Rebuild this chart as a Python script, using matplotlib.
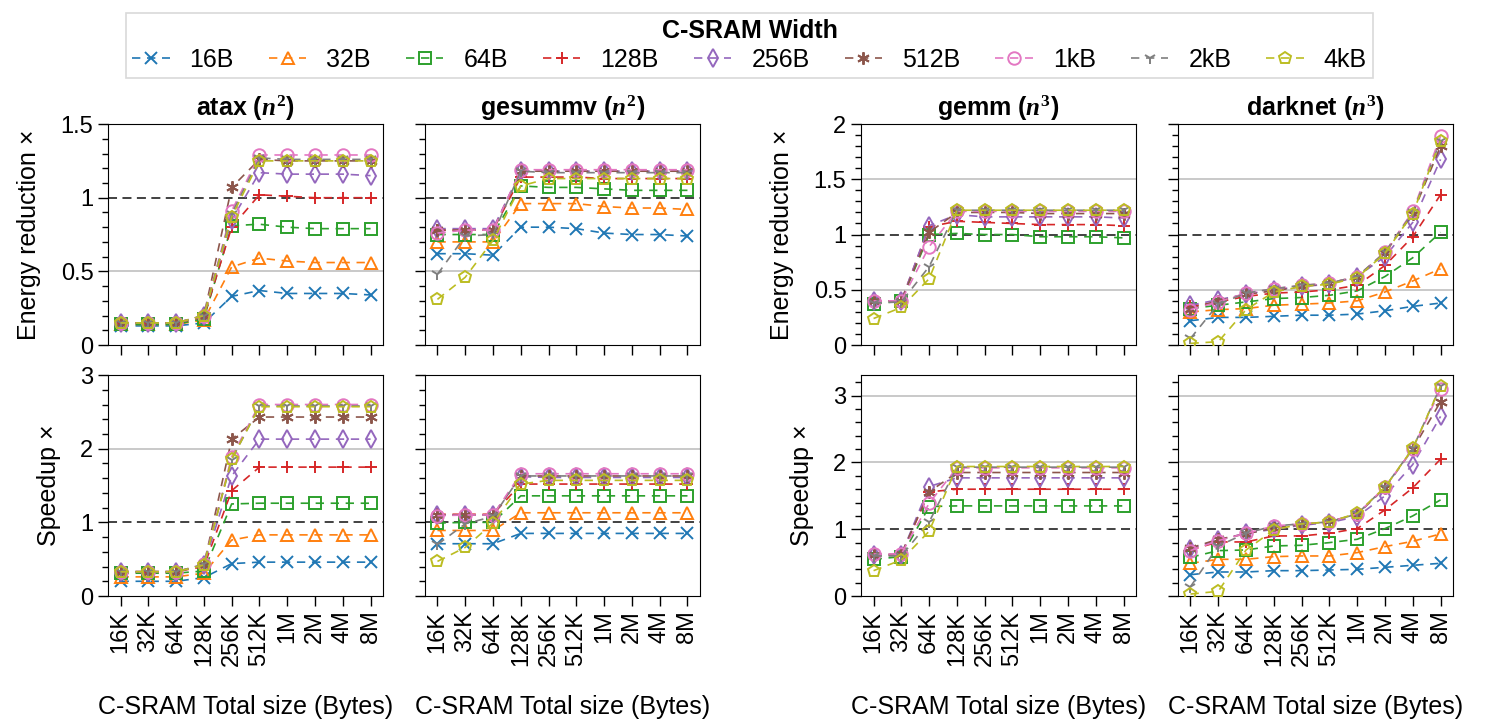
import numpy as np
import matplotlib
matplotlib.use("Agg")
import matplotlib.pyplot as plt
from matplotlib.ticker import MultipleLocator, FuncFormatter

plt.rcParams['font.family'] = ['Liberation Sans', 'DejaVu Sans']
plt.rcParams['mathtext.fontset'] = 'custom'
plt.rcParams['mathtext.it'] = 'Liberation Serif:italic:bold'
plt.rcParams['mathtext.rm'] = 'Liberation Serif:bold'

# -------------------------
# Datos
# -------------------------
tamanos = ["16K", "32K", "64K", "128K", "256K", "512K", "1M", "2M", "4M", "8M"]
anchos = ["16B", "32B", "64B", "128B", "256B", "512B", "1kB", "2kB", "4kB"]
marcadores = ["x", "^", "s", "+", "d", (6, 2, 0), "o", "1", "p"]
colores = ["#1f77b4", "#ff7f0e", "#2ca02c", "#d62728", "#9467bd",
           "#8c564b", "#e377c2", "#7f7f7f", "#bcbd22"]
na = [None] * 10

atax_energy = [
    [0.13, 0.13, 0.13, 0.15, 0.33, 0.37, 0.35, 0.35, 0.35, 0.34],
    [0.14, 0.14, 0.14, 0.17, 0.53, 0.59, 0.57, 0.56, 0.56, 0.56],
    [0.14, 0.14, 0.14, 0.18, 0.81, 0.82, 0.80, 0.79, 0.79, 0.79],
    [0.15, 0.15, 0.15, 0.19, 0.80, 1.02, 1.01, 1.00, 1.00, 1.00],
    [0.15, 0.15, 0.15, 0.20, 0.85, 1.17, 1.16, 1.16, 1.16, 1.15],
    [0.15, 0.15, 0.15, 0.20, 1.07, 1.26, 1.25, 1.25, 1.25, 1.25],
    [0.15, 0.15, 0.15, 0.20, 0.91, 1.29, 1.29, 1.29, 1.29, 1.29],
    [0.15, 0.15, 0.15, 0.20, 0.89, 1.27, 1.26, 1.26, 1.26, 1.26],
    [0.15, 0.15, 0.15, 0.20, 0.87, 1.25, 1.25, 1.25, 1.25, 1.25],
]
gesummv_energy = [
    [0.62, 0.62, 0.61, 0.80, 0.80, 0.79, 0.76, 0.75, 0.75, 0.74],
    [0.70, 0.70, 0.70, 0.96, 0.96, 0.96, 0.94, 0.93, 0.93, 0.92],
    [0.75, 0.75, 0.75, 1.08, 1.07, 1.07, 1.06, 1.05, 1.05, 1.05],
    [0.78, 0.78, 0.78, 1.14, 1.14, 1.14, 1.13, 1.13, 1.13, 1.13],
    [0.79, 0.79, 0.79, 1.18, 1.18, 1.18, 1.18, 1.18, 1.18, 1.18],
    [0.78, 0.78, 0.78, 1.18, 1.18, 1.18, 1.18, 1.18, 1.18, 1.18],
    [0.76, 0.78, 0.78, 1.19, 1.19, 1.19, 1.19, 1.19, 1.19, 1.19],
    [0.48, 0.74, 0.75, 1.18, 1.17, 1.17, 1.17, 1.17, 1.17, 1.17],
    [0.31, 0.46, 0.71, 1.08, 1.13, 1.13, 1.13, 1.13, 1.13, 1.13],
]
gemm_energy = [
    na,
    na,
    [0.37, 0.40, 1.00, 1.01, 1.00, 1.00, 0.98, 0.98, 0.98, 0.97],
    [0.40, 0.40, 1.07, 1.12, 1.11, 1.10, 1.09, 1.09, 1.09, 1.08],
    [0.40, 0.40, 1.08, 1.18, 1.16, 1.16, 1.16, 1.16, 1.16, 1.15],
    [0.40, 0.40, 1.02, 1.20, 1.20, 1.20, 1.19, 1.19, 1.19, 1.19],
    [0.40, 0.40, 0.89, 1.21, 1.21, 1.21, 1.21, 1.21, 1.21, 1.21],
    [0.38, 0.39, 0.71, 1.22, 1.22, 1.22, 1.22, 1.22, 1.22, 1.22],
    [0.24, 0.34, 0.60, 1.22, 1.22, 1.22, 1.22, 1.22, 1.22, 1.22],
]
darknet_energy = [
    [0.22, 0.25, 0.25, 0.26, 0.27, 0.27, 0.28, 0.31, 0.35, 0.38],
    [0.30, 0.32, 0.33, 0.36, 0.37, 0.38, 0.40, 0.48, 0.58, 0.69],
    [0.33, 0.36, 0.39, 0.42, 0.43, 0.45, 0.49, 0.62, 0.79, 1.02],
    [0.35, 0.39, 0.44, 0.47, 0.48, 0.50, 0.54, 0.72, 0.98, 1.36],
    [0.36, 0.41, 0.46, 0.50, 0.53, 0.55, 0.62, 0.80, 1.11, 1.68],
    [0.33, 0.40, 0.46, 0.49, 0.53, 0.56, 0.62, 0.83, 1.19, 1.80],
    [0.32, 0.39, 0.47, 0.51, 0.54, 0.56, 0.62, 0.84, 1.21, 1.89],
    [0.06, 0.37, 0.47, 0.51, 0.54, 0.56, 0.62, 0.84, 1.20, 1.85],
    [0.015, 0.03, 0.32, 0.48, 0.53, 0.55, 0.61, 0.83, 1.19, 1.85],
]
atax_speedup = [
    [0.20, 0.20, 0.20, 0.25, 0.44, 0.46, 0.46, 0.46, 0.46, 0.46],
    [0.26, 0.26, 0.26, 0.31, 0.76, 0.83, 0.83, 0.83, 0.83, 0.83],
    [0.31, 0.31, 0.31, 0.34, 1.25, 1.26, 1.26, 1.26, 1.26, 1.26],
    [0.33, 0.33, 0.33, 0.40, 1.43, 1.75, 1.75, 1.75, 1.75, 1.75],
    [0.33, 0.33, 0.33, 0.42, 1.63, 2.13, 2.13, 2.13, 2.13, 2.13],
    [0.33, 0.33, 0.33, 0.42, 2.13, 2.43, 2.43, 2.43, 2.43, 2.43],
    [0.33, 0.33, 0.33, 0.43, 1.89, 2.60, 2.60, 2.60, 2.60, 2.60],
    [0.33, 0.33, 0.33, 0.43, 1.85, 2.58, 2.58, 2.58, 2.58, 2.58],
    [0.33, 0.33, 0.33, 0.42, 1.86, 2.57, 2.57, 2.57, 2.57, 2.57],
]
gesummv_speedup = [
    [0.71, 0.71, 0.71, 0.85, 0.85, 0.85, 0.85, 0.85, 0.85, 0.85],
    [0.89, 0.89, 0.89, 1.13, 1.13, 1.13, 1.13, 1.13, 1.13, 1.13],
    [0.99, 1.00, 1.00, 1.36, 1.36, 1.36, 1.36, 1.36, 1.36, 1.36],
    [1.11, 1.11, 1.11, 1.52, 1.52, 1.52, 1.52, 1.52, 1.52, 1.52],
    [1.10, 1.10, 1.10, 1.62, 1.61, 1.61, 1.61, 1.61, 1.61, 1.61],
    [1.10, 1.10, 1.10, 1.63, 1.63, 1.63, 1.63, 1.63, 1.63, 1.63],
    [1.09, 1.10, 1.10, 1.66, 1.66, 1.66, 1.66, 1.66, 1.66, 1.66],
    [0.70, 0.98, 1.08, 1.63, 1.63, 1.63, 1.63, 1.63, 1.63, 1.63],
    [0.47, 0.66, 0.99, 1.52, 1.57, 1.57, 1.57, 1.57, 1.57, 1.57],
]
gemm_speedup = [
    na,
    na,
    [0.55, 0.59, 1.34, 1.35, 1.35, 1.35, 1.35, 1.35, 1.35, 1.35],
    [0.60, 0.62, 1.56, 1.60, 1.60, 1.60, 1.60, 1.60, 1.60, 1.60],
    [0.62, 0.62, 1.64, 1.77, 1.77, 1.77, 1.77, 1.77, 1.77, 1.77],
    [0.62, 0.63, 1.56, 1.85, 1.85, 1.85, 1.85, 1.85, 1.85, 1.85],
    [0.63, 0.63, 1.39, 1.92, 1.92, 1.92, 1.92, 1.92, 1.92, 1.92],
    [0.60, 0.60, 1.11, 1.93, 1.93, 1.93, 1.93, 1.93, 1.93, 1.93],
    [0.38, 0.54, 0.97, 1.94, 1.94, 1.94, 1.94, 1.94, 1.94, 1.94],
]
darknet_speedup = [
    [0.32, 0.36, 0.36, 0.38, 0.38, 0.39, 0.40, 0.43, 0.46, 0.49],
    [0.49, 0.55, 0.55, 0.59, 0.60, 0.60, 0.65, 0.74, 0.82, 0.93],
    [0.58, 0.68, 0.69, 0.75, 0.76, 0.80, 0.85, 1.01, 1.20, 1.44],
    [0.69, 0.81, 0.81, 0.90, 0.90, 0.94, 1.01, 1.29, 1.62, 2.05],
    [0.71, 0.84, 0.94, 1.00, 1.06, 1.10, 1.19, 1.50, 1.97, 2.69],
    [0.72, 0.85, 0.93, 1.02, 1.07, 1.12, 1.22, 1.62, 2.20, 2.91],
    [0.68, 0.83, 0.94, 1.05, 1.08, 1.11, 1.23, 1.63, 2.20, 3.10],
    [0.14, 0.75, 0.94, 1.05, 1.08, 1.11, 1.23, 1.63, 2.21, 3.14],
    [0.03, 0.07, 0.69, 0.99, 1.08, 1.11, 1.24, 1.63, 2.21, 3.14],
]

titulos = ["atax ($n^2$)", "gesummv ($n^2$)", "gemm ($n^3$)", "darknet ($n^3$)"]
energia = [atax_energy, gesummv_energy, gemm_energy, darknet_energy]
speedup = [atax_speedup, gesummv_speedup, gemm_speedup, darknet_speedup]

# -------------------------
# Figura
# -------------------------
fig = plt.figure(figsize=(14.9, 7.25), dpi=100)
lefts = [0.0725, 0.2852, 0.5779, 0.7906]
bottoms = [0.5241, 0.1779]
w, h = 0.1846, 0.3048
x = np.arange(len(tamanos))


def dibujar(ax, datos, ymax, mayor, menor, grid_vals):
    for yv in grid_vals:
        ax.axhline(yv, color="#c0c0c0", lw=1.2, zorder=0)
    ax.axhline(1, color="#333333", lw=1.3, ls=(0, (5, 3)), zorder=1)
    lineas = []
    for serie, lab, mk, c in zip(datos, anchos, marcadores, colores):
        y = np.array([np.nan if v is None else v for v in serie], dtype=float)
        ln, = ax.plot(x, y, ls=(0, (5, 4)), lw=1.2, color=c, marker=mk,
                      ms=9, mfc="none", mew=1.4, label=lab, zorder=3)
        lineas.append(ln)
    ax.set_xlim(-0.45, 9.45)
    ax.set_ylim(0, ymax)
    ax.yaxis.set_major_locator(MultipleLocator(mayor))
    ax.yaxis.set_minor_locator(MultipleLocator(menor))
    ax.yaxis.set_major_formatter(FuncFormatter(lambda v, p: "%g" % v))
    ax.set_xticks(x)
    ax.set_xticklabels(tamanos, rotation=90, fontsize=17)
    ax.tick_params(axis="both", which="major", direction="out", length=7, width=1, labelsize=17)
    ax.tick_params(axis="y", which="minor", direction="out", length=4, width=1)
    return lineas


handles = None
for col in range(4):
    ax1 = fig.add_axes([lefts[col], bottoms[0], w, h])
    if col < 2:
        ls_ = dibujar(ax1, energia[col], 1.5, 0.5, 0.1, [0.5, 1.5])
    else:
        ls_ = dibujar(ax1, energia[col], 2.0, 0.5, 0.1, [0.5, 1.5, 2.0])
    if handles is None:
        handles = ls_
    ax1.set_title(titulos[col], fontsize=18, fontweight="bold", pad=6)
    ax1.tick_params(axis="x", labelbottom=False)

    ax2 = fig.add_axes([lefts[col], bottoms[1], w, h])
    if col < 2:
        dibujar(ax2, speedup[col], 3.0, 1, 0.2, [2, 3])
    else:
        dibujar(ax2, speedup[col], 3.31, 1, 0.2, [2, 3])
    ax2.set_xlabel("C-SRAM Total size (Bytes)", fontsize=18, labelpad=21)

    if col % 2 == 0:
        ax1.set_ylabel("Energy reduction ×", fontsize=18, labelpad=14)
        ax2.set_ylabel("Speedup ×", fontsize=18, labelpad=14)
    else:
        ax1.tick_params(axis="y", labelleft=False)
        ax2.tick_params(axis="y", labelleft=False)

leg = fig.legend(handles, anchos, loc="upper center", bbox_to_anchor=(0.503, 1.0),
                 ncol=9, fontsize=18, title="C-SRAM Width", fancybox=False,
                 handlelength=1.5, handletextpad=0.8, columnspacing=1.4,
                 borderpad=0.25, labelspacing=0.2)
leg.get_title().set_fontweight("bold")
leg.get_title().set_fontsize(18)
leg.get_frame().set_edgecolor("#d0d0d0")
leg.get_frame().set_linewidth(1.2)

fig.savefig("out.png", dpi=100)
